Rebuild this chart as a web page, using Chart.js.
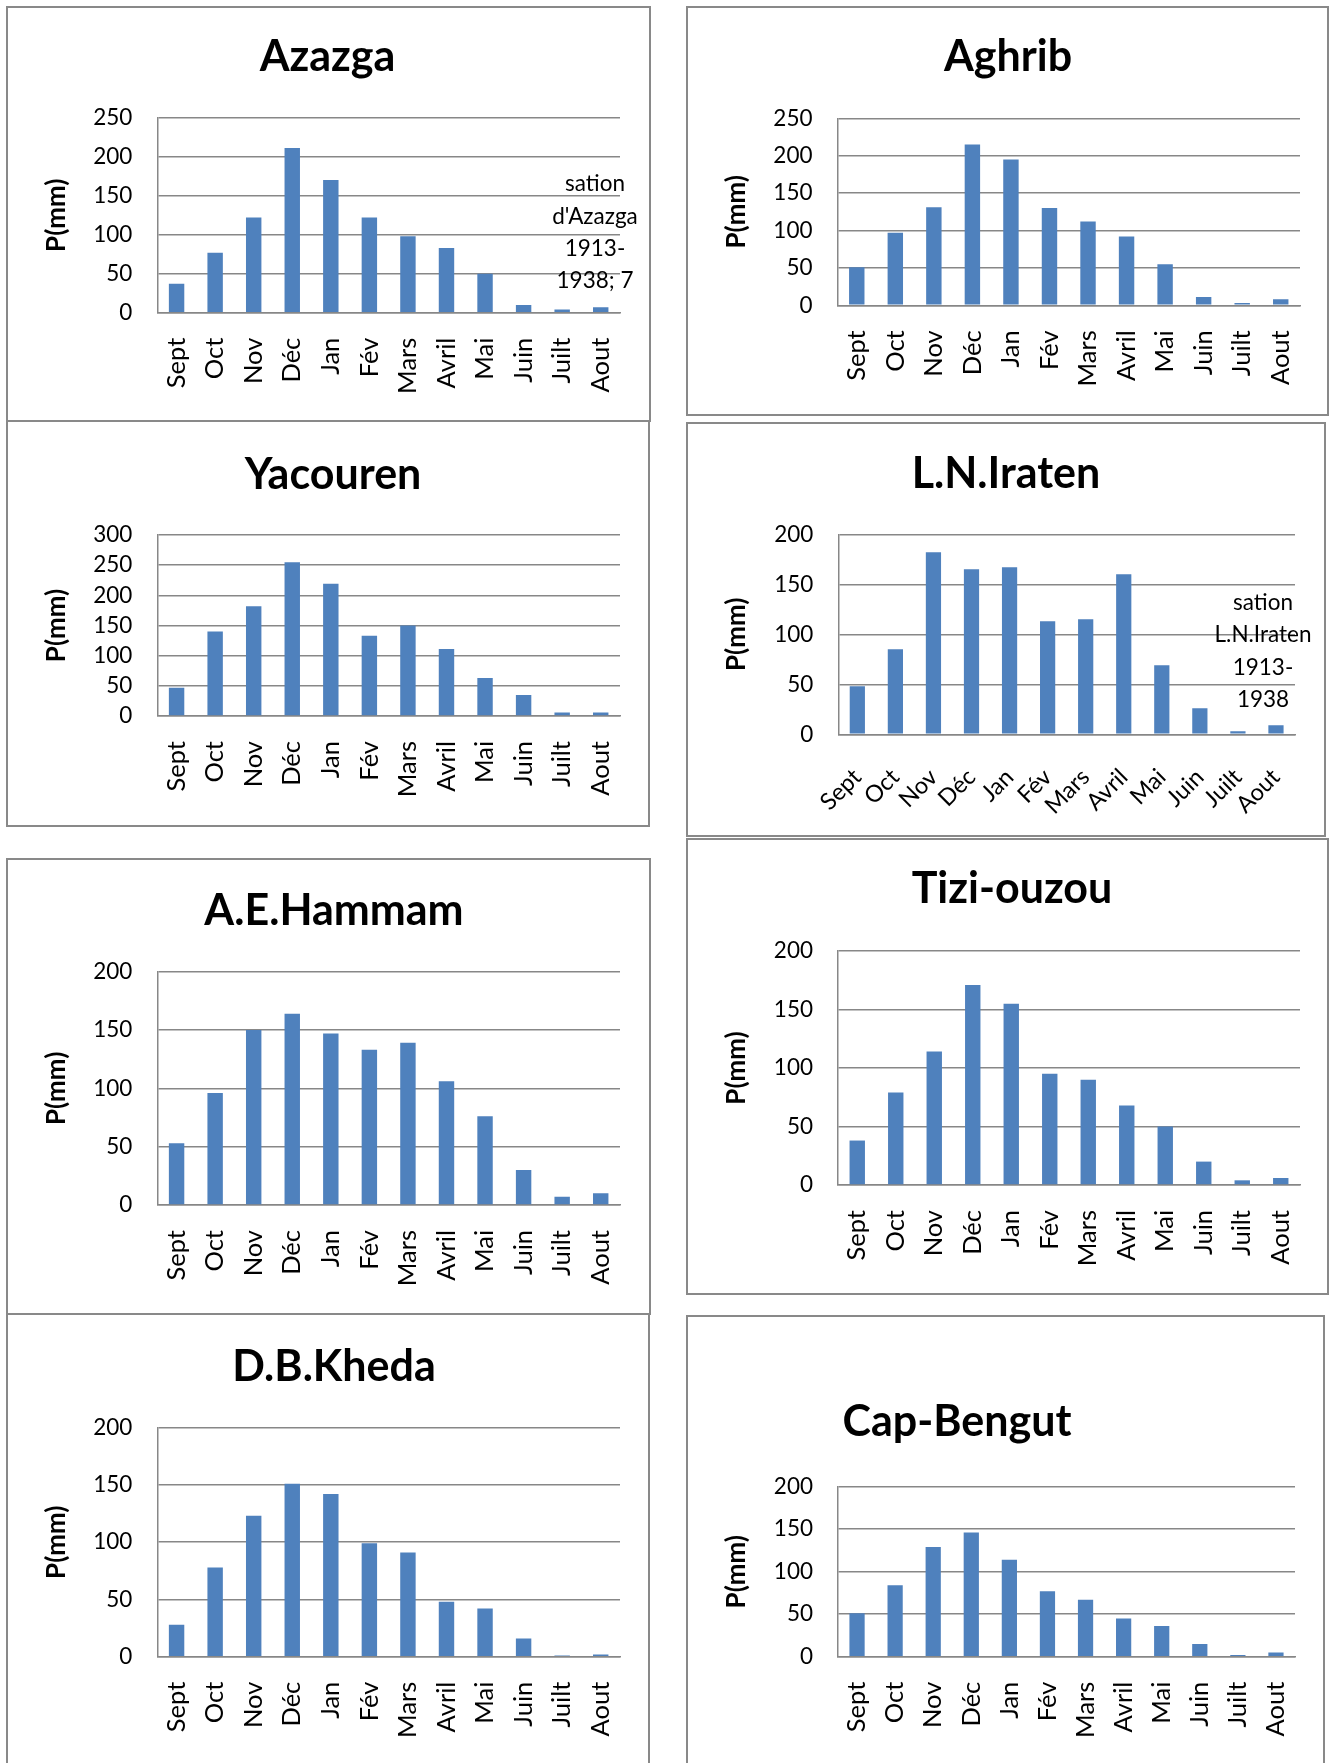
<!DOCTYPE html>
<html>
<head>
<meta charset="utf-8">
<script src="https://cdn.jsdelivr.net/npm/chart.js@4.4.0/dist/chart.umd.min.js"></script>
<style>
html, body { margin: 0; padding: 0; background: #fff; overflow: hidden; width: 1330px; height: 1763px; }
.panel { position: absolute; box-sizing: border-box; border: 2px solid #898989; background: #fff; }
.panel canvas { position: absolute; left: 0; top: 0; }
</style>
</head>
<body>
<script>
// ## data ##
const months = ['Sept', 'Oct', 'Nov', 'Déc', 'Jan', 'Fév', 'Mars', 'Avril', 'Mai', 'Juin', 'Juilt', 'Aout'];

const azazga    = [37, 77, 122, 211, 170, 122, 98, 83, 50, 10, 4, 7];
const aghrib    = [51, 97, 131, 215, 195, 130, 112, 92, 55, 11, 3, 8];
const yacouren  = [47, 140, 182, 255, 219, 133, 150, 111, 63, 35, 6, 6];
const iraten    = [48, 85, 182, 165, 167, 113, 115, 160, 69, 26, 3, 9];
const hammam    = [53, 96, 150, 164, 147, 133, 139, 106, 76, 30, 7, 10];
const tiziOuzou = [38, 79, 114, 171, 155, 95, 90, 68, 50, 20, 4, 6];
const kheda     = [28, 78, 123, 151, 142, 99, 91, 48, 42, 16, 1, 2];
const capBengut = [51, 84, 129, 146, 114, 77, 67, 45, 36, 15, 2, 5];

const stations = ['Azazga', 'Aghrib', 'Yacouren', 'L.N.Iraten', 'A.E.Hammam', 'Tizi-ouzou', 'D.B.Kheda', 'Cap-Bengut'];
const series = [azazga, aghrib, yacouren, iraten, hammam, tiziOuzou, kheda, capBengut];
const yMax = [250, 250, 300, 200, 200, 200, 200, 200];
const yStep = 50;
const yTitle = 'P(mm)';

const noteAzazga = ['sation', "d'Azazga", '1913-', '1938; 7'];
const noteIraten = ['sation', 'L.N.Iraten', '1913-', '1938'];

// ## page layout (pixels) ##
// box: x, y, w, h   plot: left, top, right, bottom   title: centre x, y
const panels = [
    { box: [6, 6, 645, 416],    plot: [157.3, 117.7, 620, 312.7],  title: [327.5, 56.7], yt: 57,  rot: 90, note: noteAzazga, noteAt: [595, 184] },
    { box: [686, 6, 643, 410],  plot: [837.5, 118.3, 1300, 305.3], title: [1008, 57.5],  yt: 737, rot: 90 },
    { box: [6, 420, 644, 407],  plot: [157.3, 535, 620, 716],      title: [333, 475],    yt: 57,  rot: 90 },
    { box: [686, 422, 640, 415], plot: [838.3, 534.3, 1295, 734.3], title: [1006, 474],  yt: 737, rot: 45, note: noteIraten, noteAt: [1263, 602.7] },
    { box: [6, 858, 645, 457],  plot: [157.3, 971.7, 620, 1205],   title: [334, 911],    yt: 57,  rot: 90 },
    { box: [686, 838, 643, 457], plot: [838, 951, 1300, 1185],     title: [1012, 889.5], yt: 737, rot: 90 },
    { box: [6, 1313, 644, 470], plot: [157.3, 1427.7, 620, 1656.7], title: [334, 1367],  yt: 57,  rot: 90 },
    { box: [686, 1315, 639, 470], plot: [838, 1486.7, 1295, 1656.7], title: [957, 1422.5], yt: 737, rot: 90 }
];

const barColor = '#4F81BD';
const gridColor = '#878787';
const font = 'Lato';
Chart.defaults.color = '#000';

// chart title + the stray data label text
const panelText = {
    id: 'panelText',
    afterDraw(chart, args, o) {
        const ctx = chart.ctx;
        ctx.save();
        ctx.fillStyle = '#000';
        ctx.textAlign = 'center';
        ctx.textBaseline = 'middle';
        ctx.font = 'bold 43px ' + font;
        ctx.fillText(o.title, o.tx, o.ty);
        if (o.note) {
            ctx.font = '22.5px ' + font;
            o.note.forEach((s, k) => ctx.fillText(s, o.nx, o.ny + k * 32.4));
        }
        ctx.restore();
    }
};

panels.forEach((p, i) => {
    const [bx, by, bw, bh] = p.box;
    const div = document.createElement('div');
    div.className = 'panel';
    Object.assign(div.style, { left: bx + 'px', top: by + 'px', width: bw + 'px', height: bh + 'px' });
    const cv = document.createElement('canvas');
    const cw = bw - 4, ch = bh - 4;
    cv.width = cw; cv.height = ch;
    cv.style.width = cw + 'px'; cv.style.height = ch + 'px';
    div.appendChild(cv);
    document.body.appendChild(div);

    const ox = bx + 2, oy = by + 2;
    const pl = p.plot[0] - ox, pt = p.plot[1] - oy, pr = p.plot[2] - ox, pb = p.plot[3] - oy;
    const padL = p.yt - ox - 15.6; // y title centre

    new Chart(cv, {
        type: 'bar',
        data: {
            labels: months,
            datasets: [{
                data: series[i],
                backgroundColor: barColor,
                borderWidth: 0,
                barPercentage: 0.4,
                categoryPercentage: 1
            }]
        },
        options: {
            responsive: false,
            animation: false,
            devicePixelRatio: 1,
            layout: { padding: { left: padL, top: pt, right: cw - pr, bottom: 0 } },
            plugins: {
                legend: { display: false },
                tooltip: { enabled: false },
                panelText: {
                    title: stations[i], tx: p.title[0] - ox, ty: p.title[1] - oy,
                    note: p.note, nx: p.note ? p.noteAt[0] - ox : 0, ny: p.note ? p.noteAt[1] - oy : 0
                }
            },
            scales: {
                x: {
                    grid: { display: false, drawTicks: false },
                    border: { display: true, color: gridColor, width: 1.5 },
                    ticks: {
                        font: { family: font, size: p.rot === 90 ? 25.5 : 23.5 },
                        color: '#000',
                        padding: p.rot === 90 ? 25 : 29,
                        minRotation: p.rot,
                        maxRotation: p.rot,
                        autoSkip: false
                    },
                    afterFit: s => { s.height = ch - pb; s.paddingLeft = 0; s.paddingRight = 0; }
                },
                y: {
                    min: 0,
                    max: yMax[i],
                    ticks: { stepSize: yStep, font: { family: font, size: 22.5 }, color: '#000', padding: 25 },
                    grid: { color: gridColor, lineWidth: 1.5, drawTicks: false },
                    border: { display: true, color: gridColor, width: 1.5 },
                    title: { display: true, text: yTitle, font: { family: font, size: 26, weight: 'bold' }, color: '#000', padding: 0 },
                    afterFit: s => { s.width = pl - padL; s.paddingTop = 0; s.paddingBottom = 0; }
                }
            }
        },
        plugins: [panelText]
    });
});
</script>
</body>
</html>
